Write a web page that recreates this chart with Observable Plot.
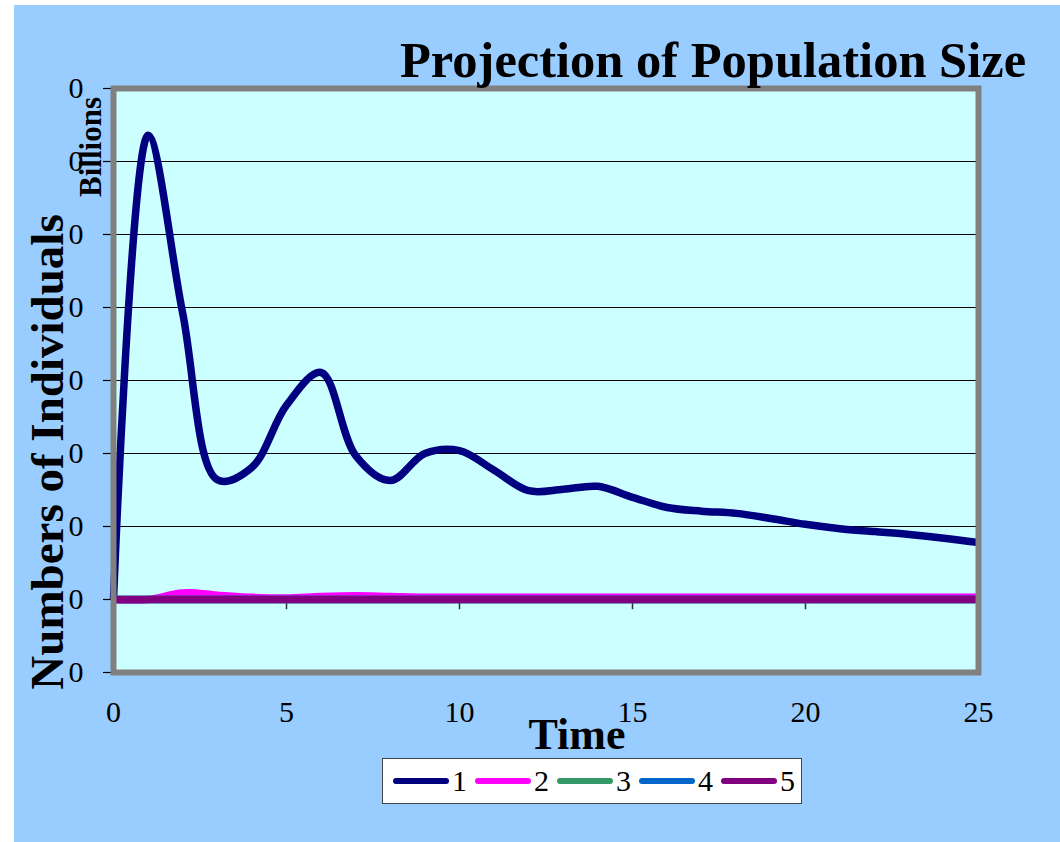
<!DOCTYPE html>
<html>
<head>
<meta charset="utf-8">
<script src="https://cdn.jsdelivr.net/npm/d3@7"></script>
<script src="https://cdn.jsdelivr.net/npm/@observablehq/plot@0.6"></script>
<style>
  html, body { margin: 0; padding: 0; background: #ffffff; width: 1060px; height: 842px; overflow: hidden; }
  #bg { position: absolute; left: 14px; top: 5px; width: 1046px; height: 837px; background: #99CCFF; }
  #chart { position: absolute; left: 0; top: 0; }
  .t { position: absolute; font-family: "Liberation Serif", "Times New Roman", serif; font-weight: bold; line-height: 1; white-space: nowrap; color: #000; }
  #title { left: 400px; top: 35px; font-size: 50.5px; }
  #xlabel { left: 577px; top: 713px; font-size: 44px; transform: translateX(-50%); }
  #ylabel { left: 24px; top: 452px; font-size: 47px; transform-origin: 0 0; transform: rotate(-90deg) translateX(-50%); }
  #unit { left: 75px; top: 147px; font-size: 31px; transform-origin: 0 0; transform: rotate(-90deg) translateX(-50%); }
  #legend { position: absolute; left: 382px; top: 758px; width: 408px; height: 44px; background: #fff; border: 1.5px solid #444;
            display: flex; align-items: center; padding-left: 10px; box-sizing: content-box; }
  .item { display: flex; align-items: center; margin-right: 8px; }
  .sw { width: 56px; height: 6px; border-radius: 3px; margin-right: 3px; }
  .lab { font-family: "Liberation Serif", "Times New Roman", serif; font-size: 30px; line-height: 1; }
</style>
</head>
<body>
<div id="bg"></div>
<div id="chart"></div>
<div class="t" id="title">Projection of Population Size</div>
<div class="t" id="xlabel">Time</div>
<div class="t" id="ylabel">Numbers of Individuals</div>
<div class="t" id="unit">Billions</div>
<div id="legend"></div>
<script>
// ---- data ----
const times = [0,1,2,3,4,5,6,7,8,9,10,11,12,13,14,15,16,17,18,19,20,21,22,23,24,25];
const series1 = [0,6.36,3.92,1.64,1.81,2.66,3.11,1.97,1.63,2.00,2.04,1.77,1.49,1.51,1.55,1.40,1.26,1.21,1.18,1.11,1.03,0.97,0.93,0.89,0.84,0.78];
const series2 = [0,0,0.09,0.06,0.03,0.02,0.04,0.05,0.04,0.03,0.03,0.03,0.03,0.03,0.03,0.03,0.03,0.03,0.03,0.03,0.03,0.03,0.03,0.03,0.03,0.03];
const series3 = [0,0,0,0,0,0,0,0,0,0,0,0,0,0,0,0,0,0,0,0,0,0,0,0,0,0];
const series4 = [0,0,0,0,0,0,0,0,0,0,0,0,0,0,0,0,0,0,0,0,0,0,0,0,0,0];
const series5 = [0,0,0,0,0,0,0,0,0,0,0,0,0,0,0,0,0,0,0,0,0,0,0,0,0,0];
const seriesNames = ["1","2","3","4","5"];
const seriesColors = ["#000080","#FF00FF","#339966","#0066CC","#800080"];
const xTicks = [0,5,10,15,20,25];
const yTicks = [-1,0,1,2,3,4,5,6,7];
const yTickLabels = ["0","0","0","0","0","0","0","0","0"];

const allSeries = [series1, series2, series3, series4, series5];
const lineMarks = allSeries.map((s, k) =>
  Plot.line(times.map((t, i) => ({t, v: s[i]})), {
    x: "t", y: "v", stroke: seriesColors[k], strokeWidth: 7.5,
    curve: "catmull-rom", strokeLinejoin: "round", strokeLinecap: "butt"
  })
);

const chart = Plot.plot({
  width: 1060, height: 842,
  marginLeft: 113, marginRight: 82, marginTop: 88, marginBottom: 170,
  x: {domain: [0, 25], ticks: xTicks},
  y: {domain: [-1, 7], ticks: yTicks},
  style: {background: "transparent", fontFamily: "Liberation Serif, Times New Roman, serif", fontSize: "30px", color: "#000"},
  marks: [
    Plot.frame({fill: "#CCFFFF", stroke: null}),
    Plot.gridY(yTicks, {stroke: "#000", strokeOpacity: 1, strokeWidth: 1.2}),
    Plot.axisY(yTicks, {tickSize: 10, tickPadding: 20, tickFormat: d => yTickLabels[yTicks.indexOf(d)], label: null, stroke: "#000", strokeWidth: 1.2}),
    Plot.axisX(xTicks, {tickSize: 0, tickPadding: 28, label: null, tickFormat: d => String(d)}),
    Plot.ruleX(xTicks, {y1: 0, y2: -0.14, stroke: "#333", strokeWidth: 1.5}),
    ...lineMarks,
    Plot.frame({stroke: "#808080", strokeWidth: 6, fill: null})
  ]
});
document.getElementById("chart").appendChild(chart);

const legend = document.getElementById("legend");
seriesNames.forEach((n, k) => {
  const it = document.createElement("div");
  it.className = "item";
  it.innerHTML = `<div class="sw" style="background:${seriesColors[k]}"></div><span class="lab">${n}</span>`;
  legend.appendChild(it);
});
</script>
</body>
</html>
